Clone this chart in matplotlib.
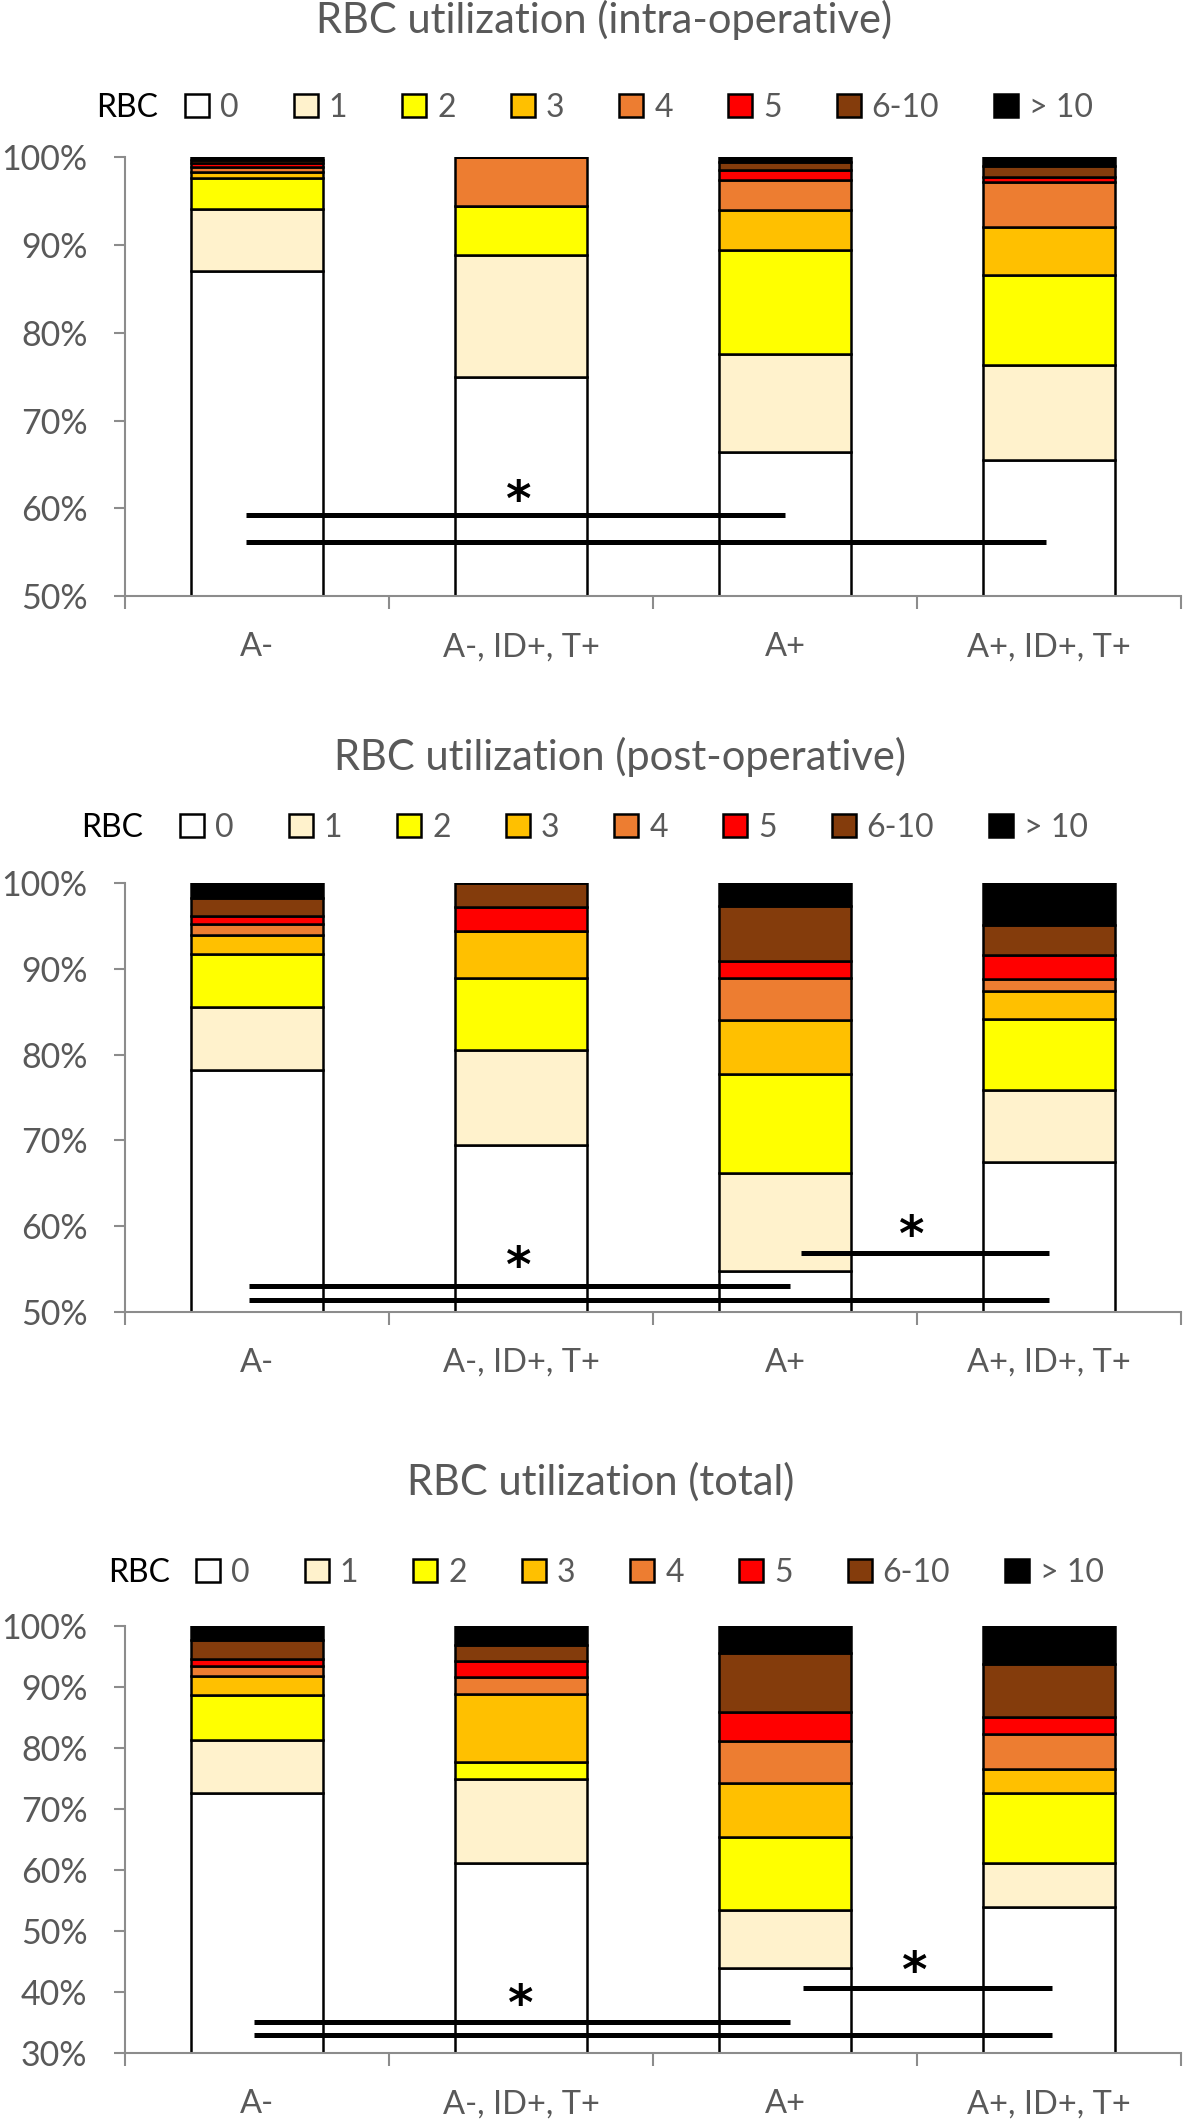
import numpy as np
import matplotlib
matplotlib.use('Agg')
import matplotlib.pyplot as plt
from matplotlib.ticker import PercentFormatter, FixedLocator, NullFormatter

plt.rcParams['font.family'] = ['Lato', 'DejaVu Sans']

groups = ['A-', 'A-, ID+, T+', 'A+', 'A+, ID+, T+']
levels = ['0', '1', '2', '3', '4', '5', '6-10', '> 10']
colors = ['#FFFFFF', '#FFF2CC', '#FFFF00', '#FFC000', '#ED7D31', '#FF0000', '#843C0C', '#000000']

# share of patients (%) per RBC level (rows) and group (columns)
intra_op = [
  [87.0, 75.0, 66.4, 65.5],
  [7.15, 13.9, 11.2, 10.8],
  [3.45, 5.5, 11.8, 10.25],
  [0.75, 0.0, 4.6, 5.55],
  [0.55, 5.6, 3.4, 5.1],
  [0.45, 0.0, 1.15, 0.6],
  [0.35, 0.0, 0.95, 1.2],
  [0.3, 0.0, 0.5, 1.0],
]
post_op = [
  [78.2, 69.5, 54.7, 67.5],
  [7.4, 11.0, 11.45, 8.4],
  [6.1, 8.4, 11.55, 8.3],
  [2.3, 5.5, 6.3, 3.2],
  [1.3, 0.0, 4.9, 1.4],
  [0.9, 2.8, 2.0, 2.8],
  [2.1, 2.8, 6.5, 3.5],
  [1.7, 0.0, 2.6, 4.9],
]
total = [
  [72.6, 61.1, 44.0, 53.9],
  [8.7, 13.8, 9.4, 7.3],
  [7.4, 2.8, 12.0, 11.4],
  [3.0, 11.1, 8.8, 4.0],
  [1.65, 2.8, 7.0, 5.7],
  [1.25, 2.7, 4.6, 2.7],
  [3.15, 2.6, 9.7, 8.7],
  [2.25, 3.1, 4.5, 6.3],
]

# significance brackets (x from, x to, y in %) and stars (x, y in %)
intra_lines = [(-0.04, 2.0, 59.2), (-0.04, 2.99, 56.2)]
intra_stars = [(0.99, 62.2)]
post_lines = [(-0.03, 2.02, 53.0), (-0.03, 3.0, 51.4), (2.06, 3.0, 56.9)]
post_stars = [(0.99, 56.6), (2.48, 60.2)]
total_lines = [(-0.01, 2.02, 35.1), (-0.01, 3.01, 33.0), (2.07, 3.01, 40.6)]
total_stars = [(1.0, 39.9), (2.49, 45.2)]

W, H = 1183, 2124
GREY = '#595959'
AXIS = '#8C8C8C'

def fx(x):
  return x / W

def fy(y):
  return 1 - y / H

def draw_panel(fig, top, bottom, ymin, values, title, title_xy, rbc_right, legend_xy, lines, stars):
  ax = fig.add_axes([fx(125), fy(bottom), (1181 - 125) / W, (bottom - top) / H])
  x = np.arange(len(groups))
  bottoms = np.zeros(len(groups))
  for k in range(len(levels)):
    ax.bar(x, values[k], 0.5, bottom=bottoms, color=colors[k], edgecolor='black',
           linewidth=1.8, label=levels[k], zorder=2)
    bottoms += np.array(values[k])
  for x0, x1, y in lines:
    ax.plot([x0, x1], [y, y], color='black', linewidth=3.6, solid_capstyle='butt', zorder=3)
  # asterisk glyph sits high in the line, shift it down onto its centre
  for xs, ys in stars:
    ax.annotate('*', (xs, ys), xytext=(0, -19.5), textcoords='offset points', ha='center',
                va='baseline', fontsize=35, fontweight='bold', family='DejaVu Sans', zorder=4)

  ax.set_xlim(-0.5, 3.5)
  ax.set_ylim(ymin, 100)
  ax.yaxis.set_major_locator(FixedLocator(np.arange(ymin, 101, 10)))
  ax.yaxis.set_major_formatter(PercentFormatter(decimals=0))
  ax.xaxis.set_major_locator(FixedLocator(np.arange(-0.5, 4, 1)))
  ax.xaxis.set_major_formatter(NullFormatter())
  ax.set_xticks(x, minor=True)
  ax.set_xticklabels(groups, minor=True)
  ax.tick_params(axis='x', which='major', length=9, width=1.5, color=AXIS, direction='out')
  ax.tick_params(axis='x', which='minor', length=0, pad=26, labelsize=23.5, labelcolor=GREY)
  ax.tick_params(axis='y', length=8, width=1.5, color=AXIS, direction='out', pad=19,
                 labelsize=24.5, labelcolor=GREY)
  for s in ['top', 'right']:
    ax.spines[s].set_visible(False)
  for s in ['left', 'bottom']:
    ax.spines[s].set_color(AXIS)
    ax.spines[s].set_linewidth(1.5)

  fig.text(fx(title_xy[0]), fy(title_xy[1]), title, ha='center', va='center', fontsize=30, color=GREY)
  fig.text(fx(rbc_right), fy(legend_xy[1]), 'RBC', ha='right', va='center', fontsize=23, color='black')
  handles, labels = ax.get_legend_handles_labels()
  fig.legend(handles, labels, ncol=8, loc='center left', bbox_to_anchor=(fx(legend_xy[0]), fy(legend_xy[1])),
             frameon=False, fontsize=23, handlelength=0.75, handleheight=0.72, handletextpad=0.34,
             columnspacing=1.73, borderpad=0, borderaxespad=0, labelcolor=GREY)
  return ax

fig = plt.figure(figsize=(W / 100, H / 100), dpi=100)
draw_panel(fig, 157.3, 596.0, 50, intra_op, 'RBC utilization (intra-operative)', (604, 20), 158, (185, 108),
           intra_lines, intra_stars)
draw_panel(fig, 883.3, 1311.7, 50, post_op, 'RBC utilization (post-operative)', (620, 757), 143, (180, 828),
           post_lines, post_stars)
draw_panel(fig, 1625.8, 2053.0, 30, total, 'RBC utilization (total)', (601, 1482), 170, (196, 1573),
           total_lines, total_stars)
fig.savefig('out.png', dpi=100)
